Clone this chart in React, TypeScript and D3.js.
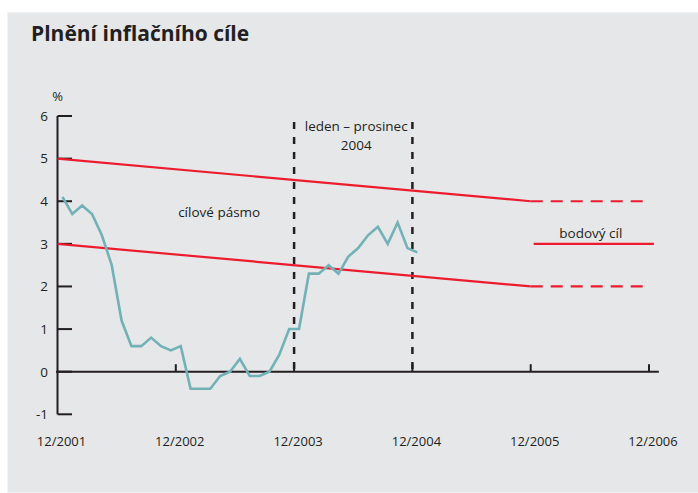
import React from "react";
import * as d3 from "d3";

// meziroční inflace, 12/2001 - 12/2004 (měsíčně)
const inflation: number[] = [
  4.1, 3.7, 3.9, 3.7, 3.2, 2.5, 1.2, 0.6, 0.6, 0.8, 0.6, 0.5, 0.6,
  -0.4, -0.4, -0.4, -0.1, 0.0, 0.3, -0.1, -0.1, 0.0, 0.4, 1.0, 1.0,
  2.3, 2.3, 2.5, 2.3, 2.7, 2.9, 3.2, 3.4, 3.0, 3.5, 2.9, 2.8,
];
const xTickLabels: string[] = ["12/2001", "12/2002", "12/2003", "12/2004", "12/2005", "12/2006"];
const yTicks: number[] = [-1, 0, 1, 2, 3, 4, 5, 6];
// cílové pásmo: měsíc od 12/2001, hodnota
const bandMonths: number[] = [0, 48];
const bandUpper: number[] = [5, 4];
const bandLower: number[] = [3, 2];
const bandDashEnd = 59.5;
const pointTarget = 3;
const pointTargetMonths: number[] = [48.3, 60.5];
const periodMonths: number[] = [24, 36];
const periodTop = 5.86;

const W = 698;
const H = 493;

export default function App() {
  const x = d3.scaleLinear().domain([0, 60]).range([57.5, 649]);
  const y = d3.scaleLinear().domain([-1, 6]).range([414.3, 116]);

  const line = d3
    .line<[number, number]>()
    .x((d) => x(d[0]))
    .y((d) => y(d[1]));

  const inflPts: [number, number][] = inflation.map((v, i) => [i + 0.5, v]);
  const upper: [number, number][] = bandMonths.map((m, i) => [m, bandUpper[i]]);
  const lower: [number, number][] = bandMonths.map((m, i) => [m, bandLower[i]]);
  const upperDash: [number, number][] = [
    [bandMonths[1], bandUpper[1]],
    [bandDashEnd, bandUpper[1]],
  ];
  const lowerDash: [number, number][] = [
    [bandMonths[1], bandLower[1]],
    [bandDashEnd, bandLower[1]],
  ];

  const red = "#ec1c2e";
  const teal = "#72b2b6";
  const ink = "#231f20";
  const font = "'Open Sans', sans-serif";

  return (
    <svg
      width={W}
      height={H}
      style={{ position: "absolute", left: 0, top: 0 }}
      fontFamily={font}
    >
      <rect x={0} y={0} width={W} height={H} fill="#fff" />
      <rect x={7.5} y={12.5} width={W - 7.5} height={480} fill="#e6e7e9" />

      <text x={31} y={41} fontSize={21} fontWeight={700} fill={ink}>
        Plnění inflačního cíle
      </text>

      <text x={x(0)} y={101} fontSize={13} textAnchor="middle" fill={ink}>
        %
      </text>

      {/* období leden - prosinec 2004 */}
      {periodMonths.map((m) => (
        <line
          key={m}
          x1={x(m)}
          x2={x(m)}
          y1={y(periodTop)}
          y2={y(0)}
          stroke={ink}
          strokeWidth={2.5}
          strokeDasharray="7,8"
        />
      ))}
      <text x={x(30.3)} y={131} fontSize={13.5} textAnchor="middle" fill={ink}>
        leden – prosinec
      </text>
      <text x={x(30.3)} y={150} fontSize={13.5} textAnchor="middle" fill={ink}>
        2004
      </text>

      {/* osy */}
      <line x1={x(0)} x2={x(0)} y1={y(6)} y2={y(-1)} stroke={ink} strokeWidth={2} />
      <line x1={x(-0.15)} x2={x(61)} y1={y(0)} y2={y(0)} stroke={ink} strokeWidth={2} />
      {yTicks.map((t) => (
        <g key={t}>
          <line x1={x(0)} x2={x(0) + 14.5} y1={y(t)} y2={y(t)} stroke={ink} strokeWidth={2} />
          <text x={48} y={y(t)} dy="0.36em" fontSize={13.5} textAnchor="end" fill={ink}>
            {t}
          </text>
        </g>
      ))}
      {xTickLabels.map((lab, i) => (
        <g key={lab}>
          {i > 0 && (
            <line
              x1={x(i * 12)}
              x2={x(i * 12)}
              y1={y(0)}
              y2={y(0) - 7.5}
              stroke={ink}
              strokeWidth={2}
            />
          )}
          <text x={x(i * 12) + 4} y={446} fontSize={13} textAnchor="middle" fill={ink}>
            {lab}
          </text>
        </g>
      ))}

      {/* cílové pásmo */}
      <path d={line(upper)!} fill="none" stroke={red} strokeWidth={2.2} />
      <path d={line(lower)!} fill="none" stroke={red} strokeWidth={2.2} />
      <path d={line(upperDash)!} fill="none" stroke={red} strokeWidth={2.2} strokeDasharray="12,8" />
      <path d={line(lowerDash)!} fill="none" stroke={red} strokeWidth={2.2} strokeDasharray="12,8" />
      <path
        d={line(pointTargetMonths.map((m) => [m, pointTarget] as [number, number]))!}
        fill="none"
        stroke={red}
        strokeWidth={2.2}
      />
      <text x={x(16.4)} y={217} fontSize={13.5} textAnchor="middle" fill={ink}>
        cílové pásmo
      </text>
      <text x={x(54.1)} y={238} fontSize={13.5} textAnchor="middle" fill={ink}>
        bodový cíl
      </text>

      {/* inflace */}
      <path
        d={line(inflPts)!}
        fill="none"
        stroke={teal}
        strokeWidth={2.6}
        strokeLinejoin="miter"
      />
    </svg>
  );
}
